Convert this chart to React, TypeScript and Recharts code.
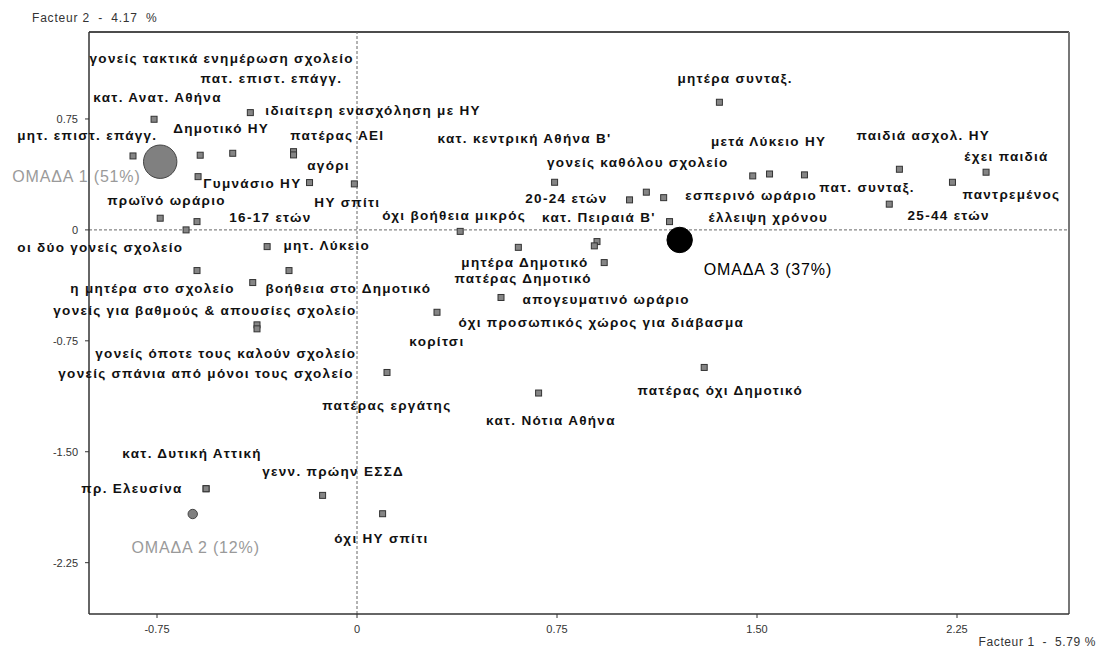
import React from 'react';
import {
  ScatterChart, Scatter, XAxis, YAxis, ReferenceLine,
} from 'recharts';

// ---- data -------------------------------------------------------------
const categories = [
  'κατ. Ανατ. Αθήνα', 'ιδιαίτερη ενασχόληση με ΗΥ', 'μητ. επιστ. επάγγ.', 'Δημοτικό ΗΥ',
  'πατ. επιστ. επάγγ.', 'πατέρας ΑΕΙ', 'γονείς τακτικά ενημέρωση σχολείο', 'Γυμνάσιο ΗΥ',
  'αγόρι', 'ΗΥ σπίτι', 'πρωϊνό ωράριο', '16-17 ετών', 'οι δύο γονείς σχολείο', 'μητ. Λύκειο',
  'η μητέρα στο σχολείο', 'βοήθεια στο Δημοτικό', 'γονείς για βαθμούς & απουσίες σχολείο',
  'γονείς όποτε τους καλούν σχολείο', 'γονείς σπάνια από μόνοι τους σχολείο', 'πατέρας εργάτης',
  'κορίτσι', 'απογευματινό ωράριο', 'μητέρα Δημοτικό', 'πατέρας Δημοτικό',
  'όχι προσωπικός χώρος για διάβασμα', 'όχι βοήθεια μικρός', '20-24 ετών',
  "κατ. κεντρική Αθήνα Β'", 'γονείς καθόλου σχολείο', "κατ. Πειραιά Β'", 'έλλειψη χρόνου', '',
  'μητέρα συνταξ.', 'μετά Λύκειο ΗΥ', 'εσπερινό ωράριο', 'πατ. συνταξ.', 'παιδιά ασχολ. ΗΥ',
  '25-44 ετών', 'παντρεμένος', 'έχει παιδιά', 'πατέρας όχι Δημοτικό', 'κατ. Νότια Αθήνα',
  'κατ. Δυτική Αττική', 'πρ. Ελευσίνα', 'γενν. πρώην ΕΣΣΔ', 'όχι ΗΥ σπίτι',
];
const factor1 = [
  -0.761, -0.400, -0.840, -0.588, -0.466, -0.238, -0.238, -0.596, -0.178, -0.010,
  -0.738, -0.600, -0.641, -0.337, -0.600, -0.391, -0.255, -0.375, -0.375, 0.1125,
  0.300, 0.540, 0.605, 0.927, 0.900, 0.387, 0.741, 1.022, 1.085, 1.150, 1.172, 0.890,
  1.359, 1.484, 1.547, 1.678, 2.034, 1.996, 2.233, 2.359, 1.302, 0.681,
  -0.566, -0.566, -0.129, 0.096,
];
const factor2 = [
  0.748, 0.793, 0.500, 0.505, 0.518, 0.529, 0.507, 0.360, 0.320, 0.311,
  0.079, 0.056, 0.000, -0.113, -0.275, -0.356, -0.275, -0.642, -0.669, -0.964,
  -0.557, -0.457, -0.118, -0.221, -0.079, -0.010, 0.322, 0.203, 0.255, 0.218, 0.056, -0.108,
  0.863, 0.365, 0.378, 0.372, 0.410, 0.174, 0.322, 0.390, -0.930, -1.103,
  -1.750, -1.750, -1.795, -1.919,
];
const groupNames = ['ΟΜΑΔΑ 1 (51%)', 'ΟΜΑΔΑ 2 (12%)', 'ΟΜΑΔΑ 3 (37%)'];
const groupF1 = [-0.738, -0.616, 1.210];
const groupF2 = [0.461, -1.921, -0.068];
const xTicks = [-0.75, 0, 0.75, 1.5, 2.25];
const yTicks = [0.75, 0, -0.75, -1.5, -2.25];
const xTitle = 'Facteur 1  -  5.79 %';
const yTitle = 'Facteur 2  -  4.17  %';

// ---- layout (pixels) ---------------------------------------------------
const XMIN = -1.005, XMAX = 2.670, YMIN = -2.597, YMAX = 1.338;
const labelOffsets: [number, number][] = [
  [-60.7, -17.6], [15, 2.3], [-115.7, -16], [-27, -22], [-32.3, -70.3], [-3.3, -11.7],
  [-204, -92], [5.3, 11.6], [-2.3, -12.7], [-40, 22.7], [-53, -13.3], [32.3, 0],
  [-168.7, 21.7], [16.3, 3.3], [-126.7, 22.6], [12.7, 10.6], [-235.7, 44.3], [-161.7, 33.3],
  [-198.7, 49.3], [-64.7, 37.3], [-27.7, 34.2], [21.6, 6.3], [-57, 19.2], [-149.7, 20.6],
  [-138.4, 85], [-78, -11.5], [-29.3, 21], [-192, -56.7], [-99.3, -25], [-121.6, 24],
  [39, 0], [0, 0], [-42, -19.3], [-41.8, -30.3], [-84.3, 26], [14.7, 16.7], [-43, -29.3],
  [18.3, 15.7], [10, 16.7], [-21.7, -11.3], [-66.7, 27.3], [-52.6, 31.7],
  [-83.7, -30.7], [-124.7, 4.3], [-60.3, -19], [-48.3, 29.3],
];
const groupRadius = [16.7, 4.7, 12.7];
const groupFill = ['#808080', '#808080', '#000000'];
const groupTextColor = ['#9a9a9a', '#9a9a9a', '#000000'];
const groupLabelOffsets: [number, number][] = [[-148, 20], [-61.3, 39], [24, 35]];

const FONT = '"Liberation Sans", Arial, sans-serif';

const points = categories.map((label, i) => ({ x: factor1[i], y: factor2[i], label, i }));
const groups = groupNames.map((label, i) => ({ x: groupF1[i], y: groupF2[i], label, i }));

const fmt = (v: number) => (v === 0 ? '0' : v.toFixed(2));

const PointShape = (props: any) => {
  const { cx, cy, payload } = props;
  const [dx, dy] = labelOffsets[payload.i];
  return (
    <g>
      <rect x={cx - 3} y={cy - 3} width={6} height={6} fill="#858585" stroke="#333" strokeWidth={1} />
      {payload.label ? (
        <text x={cx + dx} y={cy + dy} fontFamily={FONT} fontWeight="bold" fontSize={13.5}
          letterSpacing={1.3} fill="#111">
          {payload.label}
        </text>
      ) : null}
    </g>
  );
};

const GroupShape = (props: any) => {
  const { cx, cy, payload } = props;
  const i = payload.i;
  const [dx, dy] = groupLabelOffsets[i];
  return (
    <g>
      <circle cx={cx} cy={cy} r={groupRadius[i]} fill={groupFill[i]} stroke={i === 2 ? '#000' : '#444'} strokeWidth={1} />
      <text x={cx + dx} y={cy + dy} fontFamily={FONT} fontSize={16} letterSpacing={0.85} fill={groupTextColor[i]}>
        {payload.label}
      </text>
    </g>
  );
};

export default function App() {
  return (
    <div style={{ position: 'absolute', left: 0, top: 0, width: 1101, height: 652, background: '#fff' }}>
      <ScatterChart width={1101} height={652} margin={{ top: 32, right: 32, bottom: 0, left: 0 }}>
        <XAxis
          type="number" dataKey="x" domain={[XMIN, XMAX]} ticks={xTicks}
          tickFormatter={fmt} height={38} tickSize={4} tickMargin={7}
          axisLine={{ stroke: '#333', strokeWidth: 1.5 }} tickLine={{ stroke: '#333' }}
          tick={{ fontSize: 11, fill: '#333', fontFamily: FONT }}
        />
        <YAxis
          type="number" dataKey="y" domain={[YMIN, YMAX]} ticks={yTicks}
          tickFormatter={fmt} width={89} tickSize={4} tickMargin={7}
          axisLine={{ stroke: '#333', strokeWidth: 1.5 }} tickLine={{ stroke: '#333' }}
          tick={{ fontSize: 11, fill: '#333', fontFamily: FONT }}
        />
        <ReferenceLine y={YMAX} stroke="#111" strokeWidth={1.5} ifOverflow="visible" />
        <ReferenceLine x={XMAX} stroke="#777" strokeWidth={2} ifOverflow="visible" />
        <ReferenceLine x={0} stroke="#666" strokeDasharray="3 2" />
        <ReferenceLine y={0} stroke="#666" strokeDasharray="3 2" />
        <Scatter data={points} shape={PointShape} isAnimationActive={false} />
        <Scatter data={groups} shape={GroupShape} isAnimationActive={false} />
      </ScatterChart>
      <svg width={1101} height={652} style={{ position: 'absolute', left: 0, top: 0, pointerEvents: 'none' }}>
        <text x={32} y={21.5} fontFamily={FONT} fontSize={12} letterSpacing={0.8} fill="#333" style={{ whiteSpace: 'pre' }}>{yTitle}</text>
        <text x={1096} y={645.5} textAnchor="end" fontFamily={FONT} fontSize={12} letterSpacing={0.6} fill="#333" style={{ whiteSpace: 'pre' }}>{xTitle}</text>
      </svg>
    </div>
  );
}
